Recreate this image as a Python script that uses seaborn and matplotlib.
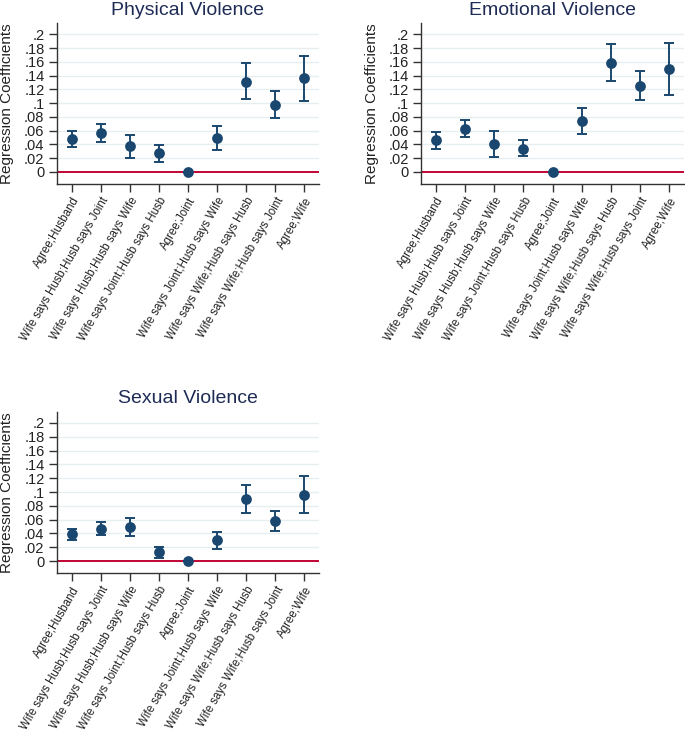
"""
Regression coefficients of violence by decision-making agreement category.
"""

import matplotlib.pyplot as plt
import pandas as pd
import seaborn as sns

categories = [
    'Agree;Husband',
    'Wife says Husb;Husb says Joint',
    'Wife says Husb;Husb says Wife',
    'Wife says Joint;Husb says Husb',
    'Agree;Joint',
    'Wife says Joint;Husb says Wife',
    'Wife says Wife;Husb says Husb',
    'Wife says Wife;Husb says Joint',
    'Agree;Wife',
]

physical_coef = [0.048, 0.057, 0.037, 0.027, 0.0, 0.049, 0.131, 0.098, 0.136]
physical_lo = [0.036, 0.044, 0.020, 0.015, 0.0, 0.032, 0.106, 0.078, 0.103]
physical_hi = [0.060, 0.069, 0.054, 0.039, 0.0, 0.067, 0.158, 0.118, 0.169]

emotional_coef = [0.046, 0.063, 0.041, 0.034, 0.0, 0.074, 0.158, 0.125, 0.150]
emotional_lo = [0.034, 0.051, 0.022, 0.023, 0.0, 0.055, 0.132, 0.104, 0.112]
emotional_hi = [0.058, 0.076, 0.060, 0.047, 0.0, 0.093, 0.186, 0.147, 0.188]

sexual_coef = [0.039, 0.047, 0.049, 0.013, 0.0, 0.030, 0.090, 0.058, 0.096]
sexual_lo = [0.030, 0.038, 0.036, 0.004, 0.0, 0.017, 0.070, 0.043, 0.070]
sexual_hi = [0.047, 0.057, 0.062, 0.021, 0.0, 0.042, 0.110, 0.073, 0.123]

y_ticks = [0, 0.02, 0.04, 0.06, 0.08, 0.1, 0.12, 0.14, 0.16, 0.18, 0.2]
y_tick_labels = ['0', '.02', '.04', '.06', '.08', '.1', '.12', '.14', '.16', '.18', '.2']

panels = [
    ('Physical Violence', physical_coef, physical_lo, physical_hi),
    ('Emotional Violence', emotional_coef, emotional_lo, emotional_hi),
    ('Sexual Violence', sexual_coef, sexual_lo, sexual_hi),
]

NAVY = '#1a476f'
RED = '#c10534'
GRID = '#e6eef0'
TITLE = '#1e2c55'

sns.set_theme(style='white')
plt.rcParams['font.family'] = ['Liberation Sans', 'DejaVu Sans']

fig = plt.figure(figsize=(6.85, 7.33), dpi=100)
positions = [
    [0.0832, 0.749, 0.3825, 0.2196],
    [0.615, 0.749, 0.3834, 0.2196],
    [0.0832, 0.218, 0.3825, 0.2205],
]


def draw_panel(ax, title, coef, lo, hi):
    df = pd.DataFrame({'category': categories, 'coef': coef, 'lo': lo, 'hi': hi})

    # Light horizontal grid and reference line at zero
    for y in y_ticks[1:]:
        ax.axhline(y, color=GRID, lw=1.0, zorder=0)
    ax.axhline(0, color=RED, lw=1.4, zorder=1)

    ax.errorbar(
        df['category'], df['coef'],
        yerr=[df['coef'] - df['lo'], df['hi'] - df['coef']],
        fmt='none', ecolor=NAVY, elinewidth=1.4, capsize=3.8, capthick=1.4, zorder=2,
    )
    sns.scatterplot(data=df, x='category', y='coef', color=NAVY, s=60,
                    edgecolor=NAVY, linewidth=0, ax=ax, zorder=3)

    ax.set_xlim(-0.5, 8.5)
    ax.set_ylim(-0.0175, 0.2165)
    ax.set_yticks(y_ticks)
    ax.set_yticklabels(y_tick_labels, fontsize=10.5, color='#222222')
    ax.set_xticks(range(len(categories)))
    ax.set_xticklabels(categories, rotation=60, ha='right', rotation_mode='anchor',
                       fontsize=8.3, color='#222222')
    ax.tick_params(axis='both', direction='out', length=6, width=1, color='#333333',
                   bottom=True, left=True, pad=3)
    ax.tick_params(axis='x', pad=2)

    ax.set_xlabel('')
    ax.set_ylabel('Regression Coefficients', fontsize=11, color='#222222', labelpad=7)
    ax.set_title(title, fontsize=14, color=TITLE, pad=6)

    for side in ['top', 'right']:
        ax.spines[side].set_visible(False)
    for side in ['left', 'bottom']:
        ax.spines[side].set_color('#333333')
        ax.spines[side].set_linewidth(1.0)


for pos, (title, coef, lo, hi) in zip(positions, panels):
    ax = fig.add_axes(pos)
    draw_panel(ax, title, coef, lo, hi)

plt.savefig('out.png', dpi=100)
plt.close()
